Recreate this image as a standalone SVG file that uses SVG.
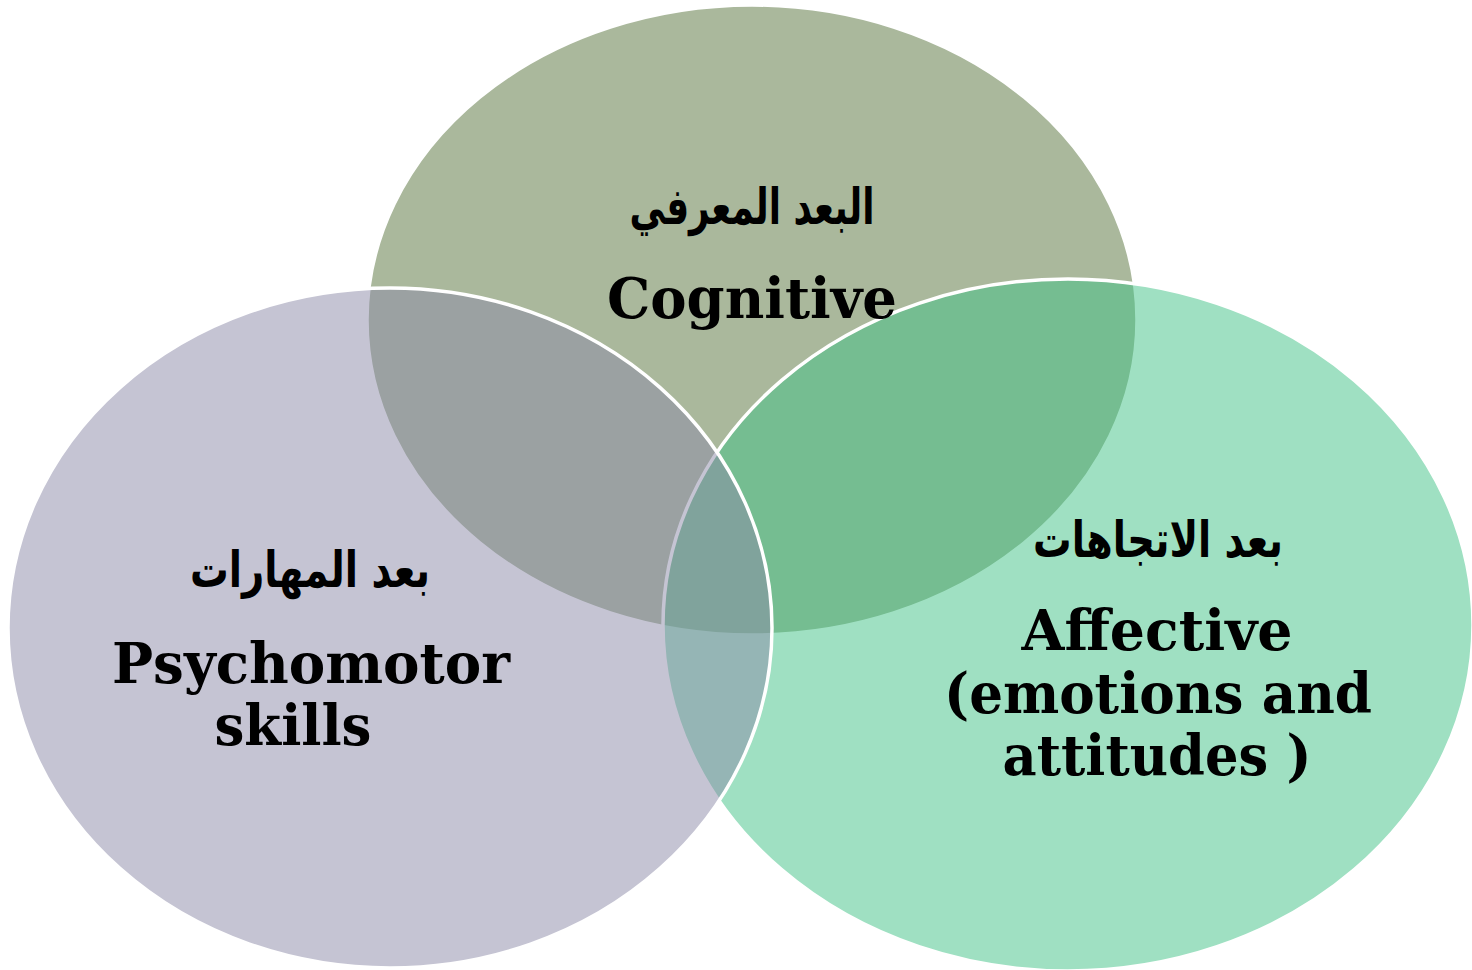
<svg xmlns="http://www.w3.org/2000/svg" width="1472" height="970" viewBox="0 0 1472 970">
<style>
.c{stroke:#ffffff;stroke-width:3.5}
.en{font-family:"DejaVu Serif","Liberation Serif",serif;font-weight:bold;font-size:56px;fill:#000;text-anchor:middle}
.ar{font-family:"DejaVu Sans","Noto Sans",sans-serif;font-weight:bold;font-size:50px;fill:#000;text-anchor:middle}
</style>
<rect width="1472" height="970" fill="#ffffff"/>
<g id="cognitive">
<ellipse class="c" cx="752" cy="320" rx="385" ry="315" fill="#aab89c"/>
</g>
<g id="affective">
<ellipse class="c" cx="1068" cy="625" rx="405" ry="346" fill="#3fc185" fill-opacity="0.5"/>
</g>
<g id="psychomotor">
<ellipse class="c" cx="390" cy="628" rx="382" ry="340" fill="#8b89a7" fill-opacity="0.5"/>
</g>
<g id="labels-cognitive">
<text class="ar" x="752" y="224" direction="rtl" textLength="245" lengthAdjust="spacingAndGlyphs">البعد المعرفي</text>
<text class="en" x="752" y="318" textLength="290" lengthAdjust="spacingAndGlyphs">Cognitive</text>
</g>
<g id="labels-psychomotor">
<text class="ar" x="310" y="587" direction="rtl" textLength="240" lengthAdjust="spacingAndGlyphs">بعد المهارات</text>
<text class="en" x="311" y="683" textLength="398" lengthAdjust="spacingAndGlyphs">Psychomotor</text>
<text class="en" x="293" y="745" textLength="157" lengthAdjust="spacingAndGlyphs">skills</text>
</g>
<g id="labels-affective">
<text class="ar" x="1158" y="557" direction="rtl" textLength="250" lengthAdjust="spacingAndGlyphs">بعد الاتجاهات</text>
<text class="en" x="1157" y="650" textLength="271" lengthAdjust="spacingAndGlyphs">Affective</text>
<text class="en" x="1158" y="713" textLength="428" lengthAdjust="spacingAndGlyphs">(emotions and</text>
<text class="en" x="1157" y="775" textLength="309" lengthAdjust="spacingAndGlyphs">attitudes )</text>
</g>
</svg>
